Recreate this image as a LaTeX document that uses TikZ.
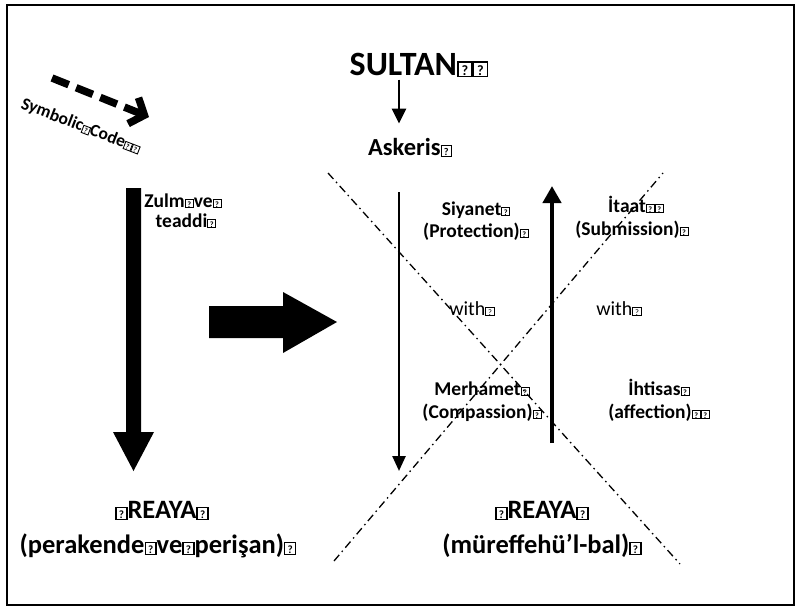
\documentclass[tikz,border=0pt]{standalone}
\usepackage{fontspec}
\setmainfont{Carlito}
\usepackage{graphicx}
\usetikzlibrary{arrows.meta}

% small framed question mark used as a filler glyph
\newcommand{\qbox}{{\setlength{\fboxsep}{0.02em}\setlength{\fboxrule}{0.05em}\fbox{\makebox[0.32em]{\rule{0pt}{0.34em}\scalebox{0.42}{?}}}}}

\tikzset{
  txt/.style={inner sep=0pt, anchor=base},
  bigtxt/.style={txt, font=\bfseries\fontsize{34}{40}\selectfont},
  midtxt/.style={txt, font=\bfseries\fontsize{24.5}{29}\selectfont},
  lbl/.style={txt, font=\bfseries\fontsize{19.5}{23}\selectfont},
  withtxt/.style={txt, font=\fontsize{20}{24}\selectfont},
  reaya/.style={txt, font=\bfseries\fontsize{26.5}{31}\selectfont},
  symtxt/.style={inner sep=0pt, font=\bfseries\fontsize{17.5}{21}\selectfont},
  dashdot/.style={line width=1.3pt, dash pattern=on 8pt off 4pt on 1.5pt off 4pt},
  blockarrow/.style={fill=black},
}

\begin{document}
\begin{tikzpicture}[x=1pt, y=-1pt]
\useasboundingbox (0,0) rectangle (801,608);
\draw[line width=1.8pt] (7,5) rectangle (794,605);

% hierarchy at the top
\node[bigtxt] (sultan) at (419,75) {SULTAN\qbox\qbox};
\node[midtxt] (askeris) at (410,155) {Askeris\qbox};
\draw[line width=2.5pt, -{Triangle[length=15pt,width=14pt]}, shorten <=2pt, shorten >=14pt]
  ([xshift=-20pt]sultan.south) -- ([xshift=-11pt]askeris.north);

% symbolic code marker
\node[symtxt, rotate=-21, anchor=base west] (symb) at (20,108) {Symbolic\qbox Code\qbox\qbox};
\coordinate (d1) at (52,78);
\coordinate (d2) at (149,117);
\draw[line width=7.5pt, dash pattern=on 18pt off 8pt, -{Straight Barb[length=12pt,width=28pt]}] (d1) -- (d2);

% left side: oppression
\fill (126,188) -- (141,188) -- (141,432) -- (154,432) -- (133.5,471) -- (113,432) -- (126,432) -- cycle;
\node[lbl] (zulm) at (183,207) {Zulm\qbox ve\qbox};
\node[lbl] (teaddi) at (186,227) {teaddi\qbox};
\node[reaya] (reayaL) at (162,518) {\qbox REAYA\qbox};
\node[reaya] (reayaLb) at (158,553) {(perakende\qbox ve\qbox peri\c{s}an)\qbox};

% transition arrow
\fill[blockarrow] (209,306) -- (283,306) -- (283,292) -- (337,322) -- (283,353) -- (283,338) -- (209,338) -- cycle;

% crossing dash-dot lines
\coordinate (c1a) at (328,173);
\coordinate (c1b) at (680,564);
\coordinate (c2a) at (334,561);
\coordinate (c2b) at (663,173);
\draw[dashdot] (c1a) -- (c1b);
\draw[dashdot] (c2a) -- (c2b);

% reciprocal arrows
\coordinate (dn1) at (399,192);
\coordinate (dn2) at (399,471);
\coordinate (up1) at (552,443);
\coordinate (up2) at (552,186);
\draw[line width=2.5pt, -{Triangle[length=15pt,width=13pt]}] (dn1) -- (dn2);
\draw[line width=4.5pt, -{Triangle[length=17pt,width=18pt]}] (up1) -- (up2);

% labels
\node[lbl] (siy) at (476,215) {Siyanet\qbox};
\node[lbl] (prot) at (476,237) {(Protection)\qbox};
\node[lbl] (itaat) at (636,212) {\.{I}taat\qbox\qbox};
\node[lbl] (subm) at (632,235) {(Submission)\qbox};
\node[withtxt] (with1) at (472,315) {with\qbox};
\node[withtxt] (with2) at (619,315) {with\qbox};
\node[lbl] (merh) at (482,395) {Merhamet\qbox};
\node[lbl] (comp) at (482,418) {(Compassion)\qbox};
\node[lbl] (ihti) at (659,395) {\.{I}htisas\qbox};
\node[lbl] (affe) at (659,418) {(affection)\qbox\qbox};
\node[reaya] (reayaR) at (542,518) {\qbox REAYA\qbox};
\node[reaya] (reayaRb) at (542,553) {(m\"ureffeh\"u’l-bal)\qbox};
\end{tikzpicture}
\end{document}
